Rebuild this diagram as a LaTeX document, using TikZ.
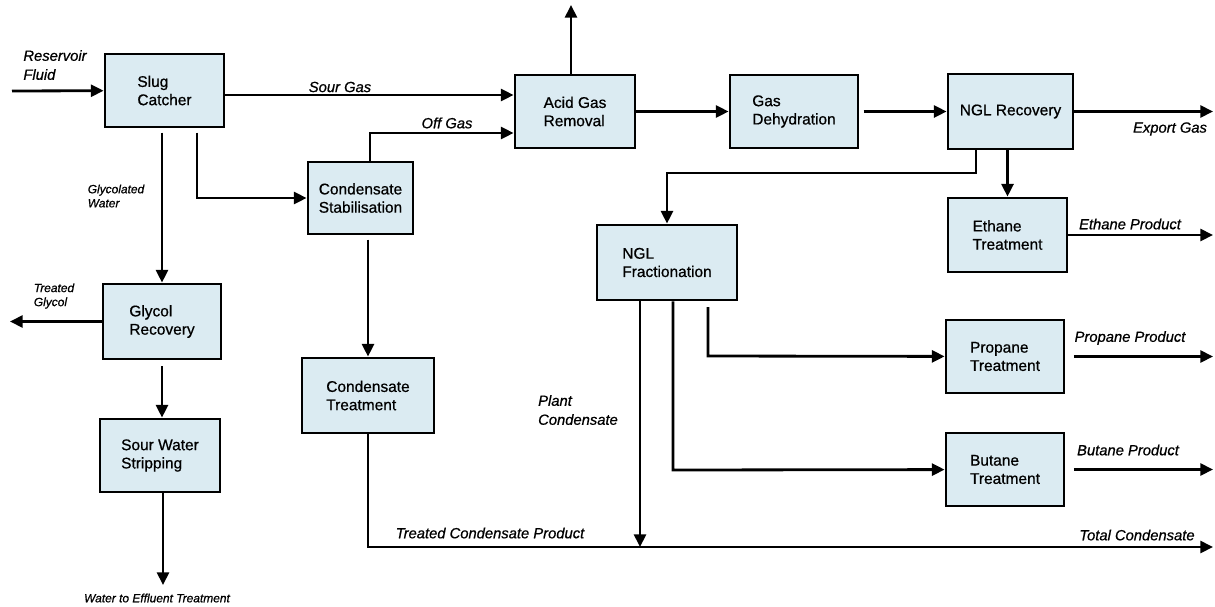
\documentclass[tikz,border=0pt]{standalone}
\usepackage{fontspec}
\setmainfont{Liberation Sans}[FakeBold=0.7]
\usetikzlibrary{arrows.meta, calc}

\definecolor{unitfill}{RGB}{219,235,242}
\tikzset{
  unit/.style={draw, fill=unitfill, line width=2pt, align=left, inner sep=2pt,
    font=\fontsize{11}{13}\selectfont},
  flow/.style={line width=2pt, -{Triangle[length=9pt,width=8.5pt]}},
  stream/.style={font=\fontsize{10.5}{13.5}\selectfont\itshape, align=left, inner sep=1pt},
  smallstream/.style={font=\fontsize{8.5}{10}\selectfont\itshape, align=left, inner sep=1pt},
}

\begin{document}
\begin{tikzpicture}[x=0.025cm, y=-0.025cm]
  \useasboundingbox (0,0) rectangle (1215,606);
  % process units (pixel grid, y downwards)
  \node[unit, minimum width=2.975cm, minimum height=1.825cm] (slug)      at (164.5,90.5) {Slug\\Catcher};
  \node[unit, minimum width=3.0cm,   minimum height=1.825cm] (agr)       at (575,111.5)  {Acid Gas\\Removal};
  \node[unit, minimum width=3.2cm,   minimum height=1.825cm] (dehy)      at (794,111.5)  {Gas\\Dehydration};
  \node[unit, minimum width=3.125cm, minimum height=1.875cm] (nglrec)    at (1010.5,111.5) {NGL Recovery};
  \node[unit, minimum width=2.975cm, minimum height=1.85cm]  (ethane)    at (1007.5,235) {Ethane\\Treatment};
  \node[unit, minimum width=2.625cm, minimum height=1.8cm]   (stab)      at (360.5,198)  {Condensate\\Stabilisation};
  \node[unit, minimum width=2.95cm,  minimum height=1.875cm] (glycol)    at (162,321.5)  {Glycol\\Recovery};
  \node[unit, minimum width=3.0cm,   minimum height=1.825cm] (sour)      at (160,455.5)  {Sour Water\\Stripping};
  \node[unit, minimum width=3.3cm,   minimum height=1.875cm] (condtreat) at (368,395.5)  {Condensate\\Treatment};
  \node[unit, minimum width=3.5cm,   minimum height=1.875cm] (ngfrac)    at (667,262.5)  {NGL\\Fractionation};
  \node[unit, minimum width=2.95cm,  minimum height=1.825cm] (propane)   at (1005,356.5) {Propane\\Treatment};
  \node[unit, minimum width=2.95cm,  minimum height=1.825cm] (butane)    at (1005,469.5) {Butane\\Treatment};

  % free ends and bends
  \coordinate (resin) at (12,91);
  \coordinate (sg)    at (0,95);
  \coordinate (og)    at (370,133);
  \coordinate (agtop) at (571,5);
  \coordinate (exp)   at (1213,111.5);
  \coordinate (nr)    at (976,173);
  \coordinate (sc)    at (197,198);
  \coordinate (tg)    at (10,319);
  \coordinate (eff)   at (163,585);
  \coordinate (tc)    at (1213,547);
  \coordinate (pc)    at (640,547);
  \coordinate (bu)    at (673,470);
  \coordinate (pr)    at (708,356);

  % gas train
  \draw[flow] (resin) -- (slug);
  \draw[flow] (slug.east |- sg) -- (agr.west |- sg);
  \draw[flow] (stab.north -| og) -- (og) -- (agr.west |- og);
  \draw[flow] (agr.north -| agtop) -- (agtop);
  \draw[flow] (agr) -- (dehy);
  \draw[flow, shorten <=3pt] (dehy) -- (nglrec);
  \draw[flow] (nglrec) -- (exp);
  \draw[flow] (nglrec.south -| ethane.north) -- (ethane.north);
  \draw[flow] (nglrec.south -| nr) -- (nr) -| (ngfrac.north);
  \draw[flow] (ethane) -- (ethane -| exp);

  % liquids
  \draw[flow, shorten <=3pt] (slug.south -| glycol) -- (glycol);
  \draw[flow, shorten <=3pt] (slug.south -| sc) -- (sc) -- (stab);
  \draw[flow] (glycol) -- (glycol -| tg);
  \draw[flow, shorten <=4pt] (glycol.south) -- (glycol.south |- sour.north);
  \draw[flow] (sour.south -| eff) -- (eff);
  \draw[flow, shorten <=3pt] (stab.south -| condtreat) -- (condtreat);
  \draw[flow] (condtreat.south) |- (tc);
  \draw[flow] (ngfrac.south -| pc) -- (pc);
  \draw[flow] (ngfrac.south -| bu) -- (bu) -- (butane);
  \draw[flow, shorten <=4pt] (ngfrac.south -| pr) -- (pr) -- (propane);
  \draw[flow, shorten <=6pt] (propane) -- (propane -| exp);
  \draw[flow, shorten <=6pt] (butane) -- (butane -| exp);

  % stream labels
  \node[stream] (lres)   at (55,65)    {Reservoir\\Fluid};
  \node[stream] (lsour)  at (340,87)   {Sour Gas};
  \node[stream] (loff)   at (447,123)  {Off Gas};
  \node[stream] (lexp)   at (1170,129) {Export Gas};
  \node[stream] (leth)   at (1130,224) {Ethane Product};
  \node[stream] (lprop)  at (1130,338) {Propane Product};
  \node[stream] (lbut)   at (1128,450) {Butane Product};
  \node[stream] (lplant) at (578,410)  {Plant\\Condensate};
  \node[stream] (ltreat) at (490,533)  {Treated Condensate Product};
  \node[stream] (ltot)   at (1137,535) {Total Condensate};
  \node[smallstream] (lglyw) at (116,196) {Glycolated\\Water};
  \node[smallstream] (ltg)   at (54,296)  {Treated\\Glycol};
  \node[smallstream] (leff)  at (157,598) {Water to Effluent Treatment};
\end{tikzpicture}
\end{document}
